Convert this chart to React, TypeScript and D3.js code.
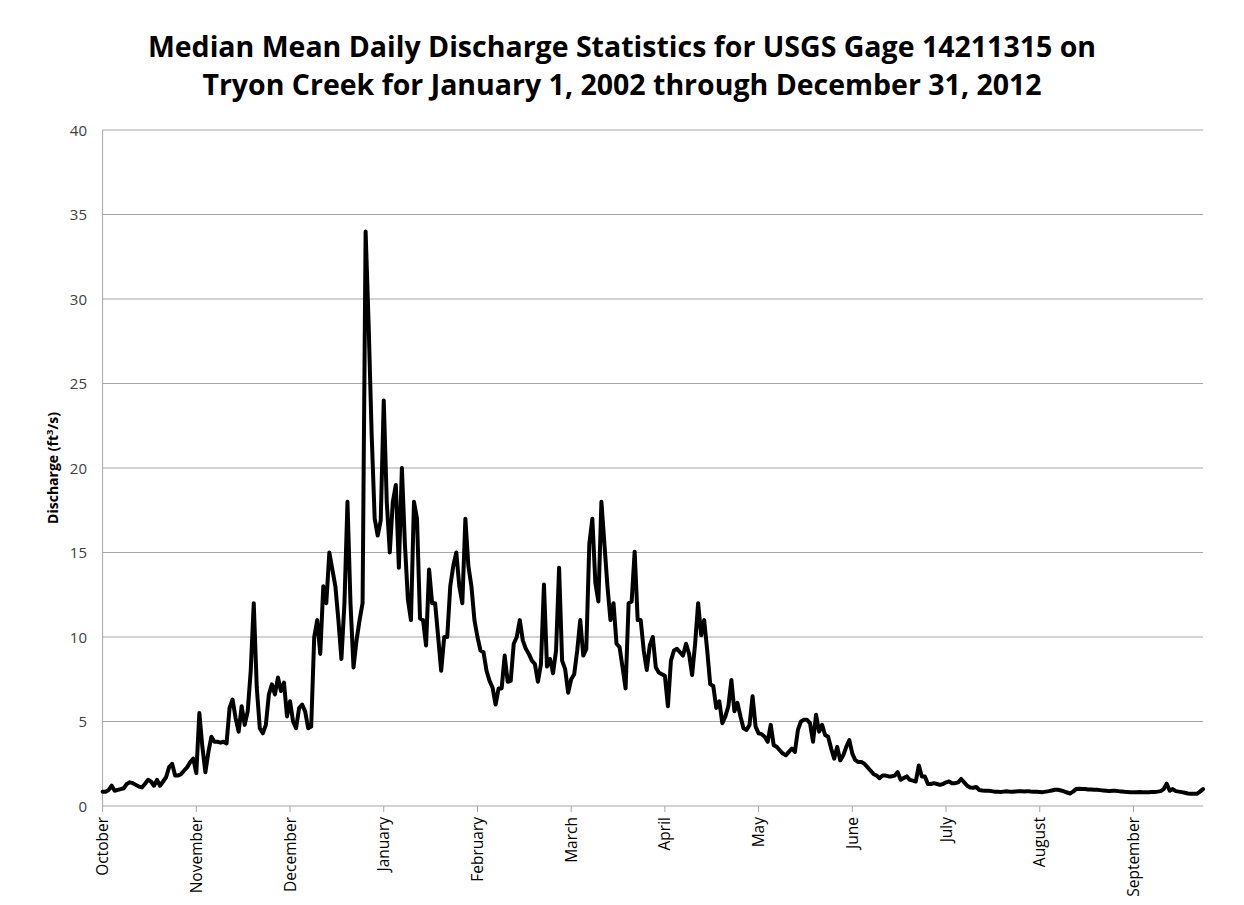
import React from "react";
import * as d3 from "d3";

// Daily median mean discharge (ft³/s), grouped in 31-day tick intervals starting Oct 1
const octSegment = [0.85,0.85,0.95,1.2,0.9,0.95,1.0,1.05,1.3,1.4,1.35,1.25,1.15,1.1,1.3,1.55,1.45,1.2,1.55,1.2,1.45,1.7,2.3,2.5,1.8,1.8,1.9,2.1,2.3,2.6,2.8];
const novSegment = [1.95,5.5,3.5,2.0,3.2,4.1,3.8,3.8,3.75,3.8,3.7,5.8,6.3,5.2,4.4,5.9,4.8,5.6,8.0,12.0,7.0,4.6,4.3,4.8,6.6,7.2,6.6,7.6,6.8,7.3,5.3];
const decSegment = [6.2,5.0,4.6,5.8,6.0,5.6,4.6,4.7,10.0,11.0,9.0,13.0,12.0,15.0,14.0,13.0,11.0,8.7,12.0,18.0,12.0,8.2,9.8,11.0,12.0,34.0,28.5,22.0,17.0,16.0,16.9];
const janSegment = [24.0,18.0,15.0,18.0,19.0,14.1,20.0,15.5,12.2,11.0,18.0,17.0,11.1,11.0,9.5,14.0,12.0,12.0,10.0,8.0,10.0,10.0,13.0,14.2,15.0,13.0,12.0,17.0,14.2,13.0,11.0];
const febSegment = [10.0,9.2,9.1,8.0,7.4,7.0,6.0,6.96,6.96,8.9,7.35,7.4,9.6,10.0,11.0,9.8,9.3,9.0,8.6,8.4,7.35,8.4,13.1,8.25,8.7,7.85,9.2,14.1,8.6,8.1,6.7];
const marSegment = [7.5,7.8,9.2,11.0,8.9,9.3,15.5,17.0,13.2,12.1,18.0,15.5,13.0,11.0,12.0,9.6,9.4,8.2,6.96,12.0,12.1,15.05,11.0,11.0,9.2,8.05,9.5,10.0,8.2,7.9,7.8];
const aprSegment = [7.7,5.9,8.6,9.2,9.3,9.1,8.9,9.6,9.0,7.75,9.6,12.0,10.1,11.0,9.2,7.2,7.1,5.8,6.2,4.9,5.3,5.9,7.45,5.6,6.1,5.3,4.6,4.5,4.8,6.5,4.7];
const maySegment = [4.3,4.25,4.1,3.8,4.8,3.6,3.5,3.3,3.1,3.0,3.2,3.4,3.2,4.5,5.0,5.1,5.1,4.9,3.8,5.4,4.4,4.8,4.2,4.1,3.4,2.8,3.5,2.7,3.0,3.5,3.9];
const junSegment = [3.1,2.7,2.6,2.6,2.5,2.3,2.1,1.9,1.8,1.65,1.8,1.8,1.75,1.75,1.8,2.0,1.55,1.65,1.75,1.55,1.5,1.45,2.4,1.75,1.75,1.3,1.3,1.35,1.3,1.25,1.3];
const julSegment = [1.4,1.45,1.35,1.35,1.4,1.6,1.4,1.2,1.1,1.08,1.12,0.95,0.92,0.9,0.9,0.88,0.85,0.85,0.83,0.85,0.87,0.85,0.84,0.86,0.88,0.87,0.86,0.88,0.86,0.85,0.84];
const augSegment = [0.83,0.82,0.85,0.88,0.92,0.96,0.96,0.92,0.86,0.8,0.74,0.85,1.0,1.02,1.0,1.0,0.98,0.98,0.96,0.96,0.94,0.92,0.9,0.88,0.9,0.9,0.88,0.86,0.84,0.83,0.82];
const sepSegment = [0.82,0.82,0.83,0.82,0.81,0.82,0.83,0.83,0.85,0.88,1.0,1.32,0.9,1.0,0.88,0.85,0.82,0.78,0.74,0.72,0.72,0.72,0.85,1.0];

const monthLabels = ["October","November","December","January","February","March","April","May","June","July","August","September"];
const yTicks = [0,5,10,15,20,25,30,35,40];
const tickInterval = 31;

const discharge = [
  ...octSegment, ...novSegment, ...decSegment, ...janSegment, ...febSegment, ...marSegment,
  ...aprSegment, ...maySegment, ...junSegment, ...julSegment, ...augSegment, ...sepSegment,
];

const titleLines = [
  "Median Mean Daily Discharge Statistics for USGS Gage 14211315 on",
  "Tryon Creek for January 1, 2002 through December 31, 2012",
];

export default function App() {
  const W = 1244, H = 905;
  const left = 102.6, right = 1203, top = 130, bottom = 806;
  const x = d3.scaleLinear().domain([0, discharge.length - 1]).range([left, right]);
  const y = d3.scaleLinear().domain([0, 40]).range([bottom, top]);
  const line = d3.line<number>().x((_, i) => x(i)).y((d) => y(d));
  const font = "'Open Sans', 'Liberation Sans', sans-serif";
  const grid = "#a6a6a6";

  return (
    <svg width={W} height={H} style={{ position: "absolute", left: 0, top: 0, background: "#fff" }} fontFamily={font}>
      <rect width={W} height={H} fill="#fff" />
      {titleLines.map((t, i) => (
        <text key={i} x={622} y={57 + i * 38} textAnchor="middle" fontSize={28.5} fontWeight="bold" fill="#000">{t}</text>
      ))}
      {yTicks.map((v) => (
        <g key={v}>
          <line x1={left} x2={right} y1={y(v)} y2={y(v)} stroke={grid} strokeWidth={1} />
          <text x={87} y={y(v) + 5.5} textAnchor="end" fontSize={15} fill="#404040">{v}</text>
        </g>
      ))}
      <line x1={left} x2={left} y1={top} y2={bottom} stroke={grid} strokeWidth={1} />
      {monthLabels.map((m, k) => {
        const xx = x(k * tickInterval);
        return (
          <g key={m}>
            <line x1={xx} x2={xx} y1={bottom} y2={bottom + 6} stroke={grid} strokeWidth={1} />
            <text transform={`translate(${xx + 5.5},${bottom + 11}) rotate(-90)`} textAnchor="end" fontSize={15.5} fill="#000">{m}</text>
          </g>
        );
      })}
      <text transform={`translate(58,${(top + bottom) / 2}) rotate(-90)`} textAnchor="middle" fontSize={14} fontWeight="bold" fill="#000">
        Discharge (ft<tspan fontSize={9.5} dy={-5}>3</tspan><tspan dy={5}>/s)</tspan>
      </text>
      <path d={line(discharge) || ""} fill="none" stroke="#000" strokeWidth={4} strokeLinejoin="round" strokeLinecap="round" />
    </svg>
  );
}
